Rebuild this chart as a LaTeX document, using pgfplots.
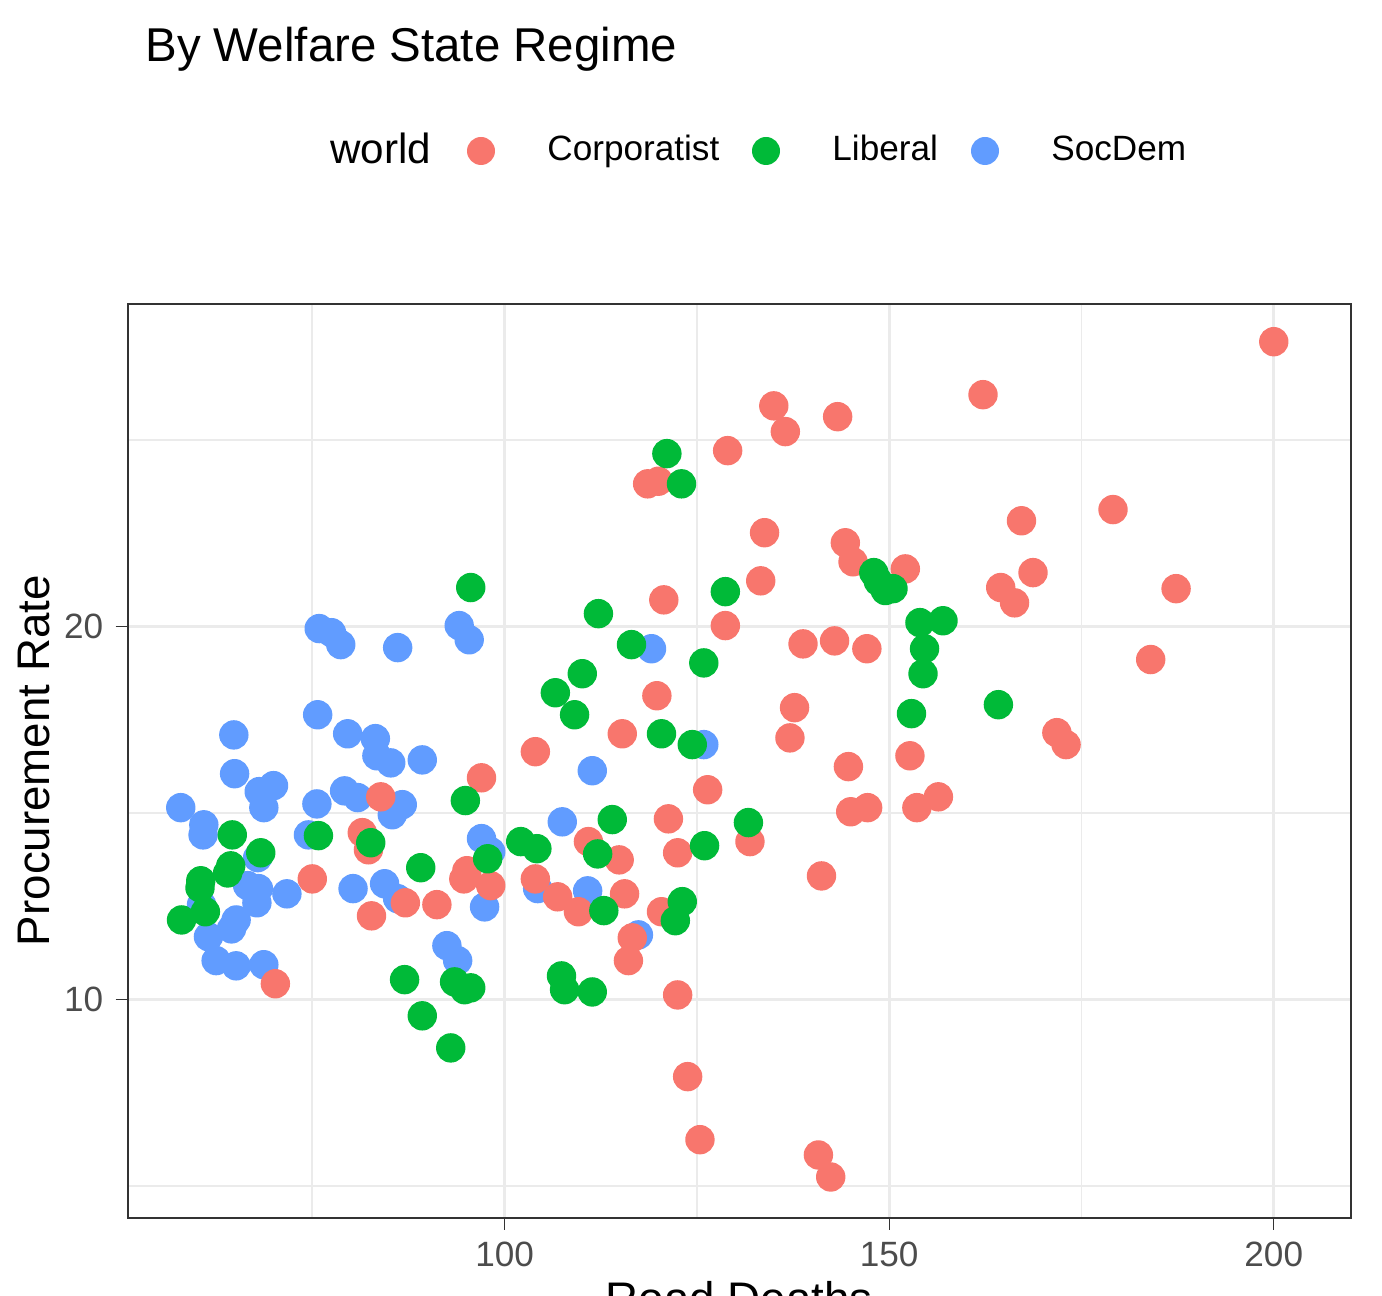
\documentclass[border=0pt]{standalone}
\usepackage{pgfplots}
\pgfplotsset{compat=1.18}
\usepackage{fontspec}
\setmainfont{Liberation Sans}
\definecolor{cR}{HTML}{F8766D}
\definecolor{cG}{HTML}{00BA38}
\definecolor{cB}{HTML}{619CFF}
\definecolor{gridc}{HTML}{EBEBEB}
\begin{document}
\begin{tikzpicture}[x=1mm,y=1mm]
\path[use as bounding box] (0,0) rectangle (138.2,129.6);
\node[anchor=base west,font=\fontsize{13.5}{15}\selectfont] at (13.3,129.6-6.2) {By Welfare State Regime};
\node[anchor=base west,font=\fontsize{12}{14}\selectfont] at (31.8,129.6-16.4) {world};
\foreach \cx/\c/\t in {48.1/cR/Corporatist,76.6/cG/Liberal,98.5/cB/SocDem}{
  \fill[\c] (\cx,129.6-15.1) circle (1.4);
  \node[anchor=base west,font=\fontsize{10}{12}\selectfont] at (\cx+5.4,129.6-16.1) {\t};
}
\begin{axis}[at={(16.6,21.0)},anchor=south west,scale only axis,
  width=122.3mm,height=91.4mm,
  xmin=51,xmax=210,ymin=4.16,ymax=28.66,
  xtick={100,150,200},ytick={10,20},
  minor xtick={75,125,175},minor ytick={5,15,25},
  grid=both,
  major grid style={gridc,line width=0.9pt},
  minor grid style={gridc,line width=0.5pt},
  axis line style={black!80,line width=0.5pt},
  tick style={black!80},
  major tick length=1.2mm,minor tick length=0pt,
  tick align=outside,
  xtick pos=bottom,ytick pos=left,
  ticklabel style={font=\fontsize{10}{12}\selectfont,text=black!70},
  /pgf/number format/assume math mode=true,
  xlabel={Road Deaths},ylabel={Procurement Rate},
  label style={font=\fontsize{13}{15}\selectfont},
  xlabel style={yshift=1mm},
  ylabel style={yshift=-1mm},
  clip=false,
]
\addplot[only marks,mark=*,mark size=1.4mm,cB,mark options={draw=none}] coordinates {
(75.9,19.95)(77.5,19.84)(78.7,19.52)(94.1,20.03)(95.4,19.65)(86.1,19.44)(119.1,19.41)(75.7,17.64)
(64.8,17.10)(79.6,17.13)(83.2,17.00)(83.4,16.54)(85.2,16.35)(89.3,16.43)(125.9,16.84)(111.4,16.14)
(64.9,16.06)(69.96,15.74)(68.1,15.58)(68.7,15.15)(57.9,15.15)(75.6,15.25)(79.2,15.60)(80.9,15.42)
(86.7,15.23)(85.4,14.96)(60.9,14.69)(60.8,14.42)(107.5,14.77)(97.0,14.32)(74.5,14.42)(98.2,13.97)
(67.9,13.81)(66.6,13.06)(68.0,12.98)(71.7,12.84)(80.3,12.98)(84.4,13.11)(86.1,12.71)(104.3,12.98)
(110.8,12.92)(67.8,12.60)(60.6,12.55)(97.4,12.49)(65.1,12.14)(64.5,11.90)(61.5,11.69)(117.4,11.74)
(92.5,11.45)(93.9,11.05)(62.5,11.05)(65.1,10.91)(68.7,10.94)
};
\addplot[only marks,mark=*,mark size=1.4mm,cR,mark options={draw=none}] coordinates {
(200,27.64)(162.2,26.22)(135.0,25.92)(143.3,25.63)(136.5,25.23)(129.0,24.72)(118.6,23.83)(120.0,23.9)
(179.1,23.14)(167.2,22.84)(133.8,22.52)(144.3,22.25)(145.3,21.74)(152.1,21.55)(168.7,21.45)(133.3,21.23)
(164.5,21.05)(187.3,21.02)(166.3,20.64)(120.7,20.72)(128.7,20.03)(138.8,19.54)(142.9,19.62)(147.1,19.41)
(184.0,19.12)(119.8,18.15)(137.7,17.83)(115.3,17.13)(137.1,17.02)(171.8,17.16)(173.0,16.84)(104.0,16.65)
(152.7,16.54)(144.7,16.25)(97.0,15.95)(126.4,15.63)(156.4,15.44)(83.9,15.44)(153.6,15.15)(145.0,15.04)
(147.2,15.15)(121.3,14.85)(81.5,14.48)(82.3,14.02)(110.9,14.24)(131.9,14.24)(122.5,13.94)(114.9,13.75)
(141.2,13.32)(75.0,13.24)(104.0,13.24)(94.7,13.24)(95.1,13.46)(98.2,13.06)(115.6,12.84)(106.9,12.76)
(87.1,12.60)(91.2,12.55)(109.6,12.36)(120.4,12.36)(82.7,12.25)(116.6,11.66)(116.1,11.05)(70.2,10.43)
(122.5,10.13)(123.8,7.94)(125.4,6.25)(140.8,5.84)(142.4,5.25)
};
\addplot[only marks,mark=*,mark size=1.4mm,cG,mark options={draw=none}] coordinates {
(121.1,24.64)(123.0,23.83)(148.0,21.45)(148.6,21.21)(149.5,20.97)(150.5,21.02)(128.7,20.94)(95.6,21.05)
(112.2,20.35)(154.0,20.11)(157.0,20.16)(116.5,19.52)(154.6,19.41)(125.9,19.03)(110.1,18.74)(154.4,18.74)
(106.6,18.23)(164.2,17.91)(109.1,17.64)(152.9,17.67)(120.4,17.13)(124.4,16.84)(94.9,15.34)(114.0,14.83)
(131.7,14.75)(64.6,14.42)(75.8,14.40)(102.1,14.24)(82.6,14.21)(104.2,14.05)(68.3,13.94)(112.1,13.91)
(126.0,14.13)(64.4,13.59)(89.1,13.54)(97.8,13.78)(60.5,13.19)(64.0,13.40)(60.4,13.00)(61.1,12.36)
(58.0,12.14)(112.9,12.39)(123.1,12.63)(122.2,12.12)(107.4,10.64)(107.8,10.27)(111.4,10.21)(87.0,10.54)
(93.5,10.48)(94.8,10.27)(95.6,10.32)(89.3,9.57)(93.0,8.71)
};
\end{axis}
\end{tikzpicture}
\end{document}
